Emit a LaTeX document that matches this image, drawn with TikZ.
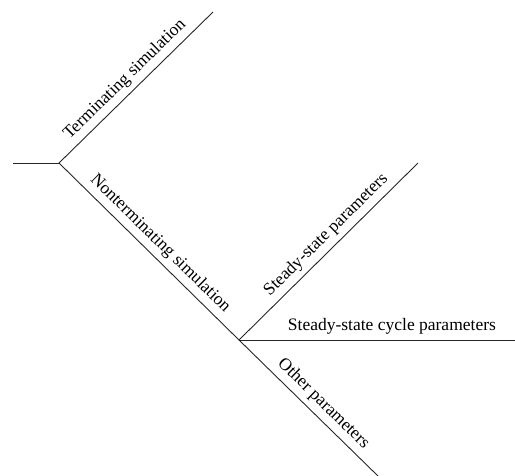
\documentclass[tikz,border=0pt]{standalone}
\usepackage{fontspec}
\setmainfont{Liberation Serif}
\begin{document}
\begin{tikzpicture}[x=1pt,y=-1pt,
  branch/.style={draw=black!85, line width=0.9pt},
  lbl/.style={sloped, above, font=\fontsize{17.5}{20}\selectfont, inner sep=5pt}]
\useasboundingbox (0,0) rectangle (515,475);
\coordinate (start) at (13,163);
\coordinate (j1) at (59,163);
\coordinate (t1) at (213,12);
\coordinate (j2) at (239,340);
\coordinate (s1) at (418,163);
\coordinate (c1) at (515,340);
\coordinate (o1) at (378,476);
\draw[branch] (start) -- (j1);
\draw[branch] (j1) -- node[lbl, pos=0.49] (term) {Terminating simulation} (t1);
\draw[branch] (j1) -- node[lbl, pos=0.51] (nonterm) {Nonterminating simulation} (j2);
\draw[branch] (j2) -- node[lbl, pos=0.54] (steady) {Steady-state parameters} (s1);
\draw[branch] (j2) -- node[lbl, pos=0.554] (cycle) {Steady-state cycle parameters} (c1);
\draw[branch] (j2) -- node[lbl, pos=0.54] (other) {Other parameters} (o1);
\end{tikzpicture}
\end{document}
